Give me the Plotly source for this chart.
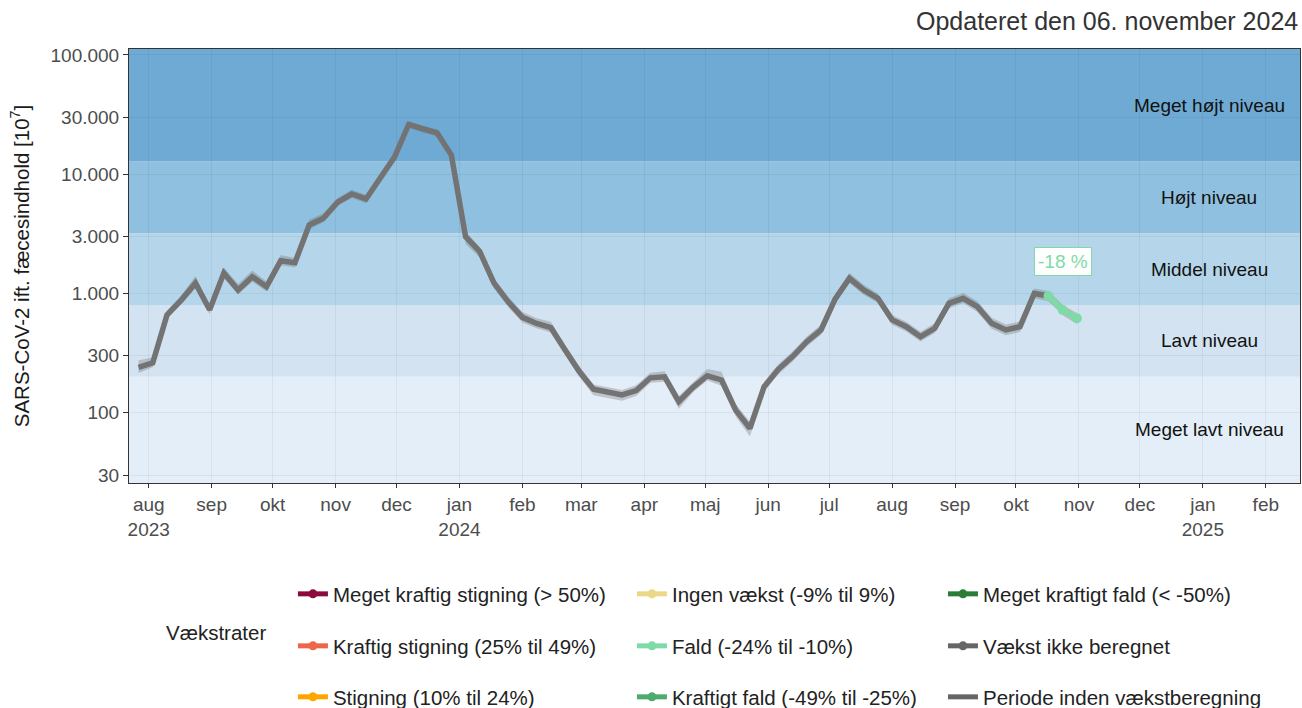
import numpy as np
import plotly.graph_objects as go

# ugentlige målinger (torsdage)
datoer = [
    "2023-07-27", "2023-08-03", "2023-08-10", "2023-08-17", "2023-08-24", "2023-08-31",
    "2023-09-07", "2023-09-14", "2023-09-21", "2023-09-28", "2023-10-05", "2023-10-12",
    "2023-10-19", "2023-10-26", "2023-11-02", "2023-11-09", "2023-11-16", "2023-11-23",
    "2023-11-30", "2023-12-07", "2023-12-14", "2023-12-21", "2023-12-28",
    "2024-01-04", "2024-01-11", "2024-01-18", "2024-01-25", "2024-02-01", "2024-02-08",
    "2024-02-15", "2024-02-22", "2024-02-29", "2024-03-07", "2024-03-14", "2024-03-21",
    "2024-03-28", "2024-04-04", "2024-04-11", "2024-04-18", "2024-04-25", "2024-05-02",
    "2024-05-09", "2024-05-16", "2024-05-23", "2024-05-30", "2024-06-06", "2024-06-13",
    "2024-06-20", "2024-06-27", "2024-07-04", "2024-07-11", "2024-07-18", "2024-07-25",
    "2024-08-01", "2024-08-08", "2024-08-15", "2024-08-22", "2024-08-29", "2024-09-05",
    "2024-09-12", "2024-09-19", "2024-09-26", "2024-10-03", "2024-10-10", "2024-10-17",
    "2024-10-24", "2024-10-31",
]
vaerdi = [
    240, 262, 660, 880, 1220, 730, 1480, 1070, 1380, 1140, 1880, 1810,
    3750, 4270, 5820, 6820, 6200, 9400, 13900, 26100, 23800, 22200, 14500,
    2990, 2240, 1220, 850, 630, 560, 516, 336, 221, 157, 149, 141,
    153, 196, 200, 124, 163, 204, 188, 105, 74, 165, 231, 295,
    394, 494, 900, 1340, 1070, 910, 600, 526, 434, 510, 826, 910,
    774, 562, 494, 526, 1000, 952, 727, 619,
]
nedre = [
    215, 240, 610, 810, 1100, 670, 1350, 980, 1250, 1040, 1720, 1650,
    3450, 3950, 5400, 6300, 5700, 8700, 12900, 24500, 22300, 20800, 13500,
    2600, 2000, 1100, 770, 570, 510, 470, 305, 200, 140, 133, 126,
    138, 178, 182, 108, 148, 186, 168, 93, 63, 150, 210, 268,
    358, 450, 820, 1220, 975, 830, 545, 480, 395, 465, 752, 830,
    700, 505, 445, 475, 910, 860, 655, 555,
]
oevre = [
    275, 290, 720, 960, 1400, 800, 1650, 1200, 1560, 1260, 2100, 1980,
    4150, 4700, 6300, 7400, 6700, 10200, 15000, 28000, 25400, 23700, 15500,
    3300, 2450, 1350, 940, 700, 620, 580, 370, 245, 172, 164, 155,
    170, 216, 222, 138, 180, 232, 220, 118, 84, 182, 255, 325,
    435, 545, 990, 1480, 1180, 1000, 660, 580, 478, 562, 910, 1010,
    860, 625, 548, 582, 1100, 1050, 800, 685,
]
# de sidste punkter har en beregnet vækstrate
start_vaekst = 64
vaekst_tekst = "-18 %"
vaekst_label_y = 1870

niveau_graenser = [200, 800, 3200, 12800]
niveau_navne = ["Meget lavt niveau", "Lavt niveau", "Middel niveau", "Højt niveau", "Meget højt niveau"]
niveau_farver = ["#e4eef8", "#d3e3f2", "#b5d6ea", "#8fc0df", "#6eaad4"]

y_ticks = [30, 100, 300, 1000, 3000, 10000, 30000, 100000]
y_ticktekst = ["30", "100", "300", "1.000", "3.000", "10.000", "30.000", "100.000"]

x_ticks = [
    "2023-08-01", "2023-09-01", "2023-10-01", "2023-11-01", "2023-12-01", "2024-01-01",
    "2024-02-01", "2024-03-01", "2024-04-01", "2024-05-01", "2024-06-01", "2024-07-01",
    "2024-08-01", "2024-09-01", "2024-10-01", "2024-11-01", "2024-12-01", "2025-01-01",
    "2025-02-01",
]
x_ticktekst = [
    "aug<br>2023", "sep", "okt", "nov", "dec", "jan<br>2024", "feb", "mar", "apr", "maj",
    "jun", "jul", "aug", "sep", "okt", "nov", "dec", "jan<br>2025", "feb",
]

legend_navne = [
    "Meget kraftig stigning (> 50%)", "Kraftig stigning (25% til 49%)", "Stigning (10% til 24%)",
    "Ingen vækst (-9% til 9%)", "Fald (-24% til -10%)", "Kraftigt fald (-49% til -25%)",
    "Meget kraftigt fald (< -50%)", "Vækst ikke beregnet", "Periode inden vækstberegning",
]
legend_farver = [
    "#8c0b3e", "#ef6548", "#ffa500",
    "#ebd886", "#7fdba6", "#4dab6d",
    "#2a7d36", "#666666", "#666666",
]

fald_farve = legend_farver[4]
y_min, y_max = 1.41, 5.05

fig = go.Figure()

# usikkerhedsbånd
fig.add_trace(go.Scatter(
    x=datoer + datoer[::-1], y=oevre + nedre[::-1],
    fill="toself", fillcolor="rgba(110,110,110,0.32)",
    line=dict(width=0), mode="lines", showlegend=False, hoverinfo="skip"))

fig.add_trace(go.Scatter(
    x=datoer[:start_vaekst + 1], y=vaerdi[:start_vaekst + 1],
    mode="lines", line=dict(color="#737373", width=5.5),
    showlegend=False))

fig.add_trace(go.Scatter(
    x=datoer[start_vaekst:], y=vaerdi[start_vaekst:],
    mode="lines+markers", line=dict(color=fald_farve, width=5.5),
    marker=dict(color=fald_farve, size=10), showlegend=False))

# legend - en legend pr. post så placeringen kan styres
kol_x = [0.1400, 0.4295, 0.6951]
raek_y = [-0.2558, -0.3756, -0.4931]
for i, (navn, farve) in enumerate(zip(legend_navne, legend_farver)):
    lg = "legend" if i == 0 else "legend%d" % (i + 1)
    mode = "lines" if i == 8 else "lines+markers"
    fig.add_trace(go.Scatter(
        x=[None], y=[None], mode=mode, name=navn, legend=lg,
        line=dict(color=farve, width=5), marker=dict(color=farve, size=9)))
    fig.update_layout({lg: dict(
        x=kol_x[i // 3], xanchor="left", y=raek_y[i % 3], yanchor="middle",
        bgcolor="rgba(0,0,0,0)", font=dict(size=20.5, color="#222222"),
        itemwidth=30)})

# niveaubånd
graenser = [y_min] + [np.log10(g) for g in niveau_graenser] + [y_max]
for i, farve in enumerate(niveau_farver):
    fig.add_shape(type="rect", xref="paper", x0=0, x1=1, yref="y",
                  y0=10 ** graenser[i], y1=10 ** graenser[i + 1], fillcolor=farve,
                  line=dict(width=0), layer="below")
    fig.add_annotation(x=0.9223, xref="paper", xanchor="center",
                       y=(graenser[i] + graenser[i + 1]) / 2, yref="y",
                       text=niveau_navne[i], showarrow=False,
                       font=dict(size=19, color="#111111"))

fig.add_annotation(x=datoer[start_vaekst + 1], y=np.log10(vaekst_label_y),
                   text=vaekst_tekst, showarrow=False,
                   font=dict(size=19, color=fald_farve),
                   bgcolor="white", bordercolor=fald_farve, borderwidth=1, borderpad=3)

fig.add_annotation(x=0.1187, xref="paper", xanchor="right", y=-0.3756, yref="paper",
                   text="Vækstrater", showarrow=False,
                   font=dict(size=20.5, color="#222222"))

fig.add_annotation(x=1, xref="paper", xanchor="right", y=1.0, yref="paper",
                   yanchor="bottom", yshift=12, text="Opdateret den 06. november 2024",
                   showarrow=False, font=dict(size=25, color="#333333"))

fig.update_xaxes(
    type="date", range=["2023-07-22 07:00", "2025-02-17 20:00"],
    tickvals=x_ticks, ticktext=x_ticktekst,
    tickfont=dict(size=19, color="#4d4d4d"),
    showgrid=True, gridcolor="rgba(0,0,0,0.05)", gridwidth=1,
    showline=True, mirror=True, linecolor="#333333", linewidth=1,
    ticks="outside", ticklen=4, tickcolor="#333333", zeroline=False)

fig.update_yaxes(
    type="log", range=[y_min, y_max],
    tickvals=y_ticks, ticktext=y_ticktekst,
    tickfont=dict(size=19, color="#4d4d4d"),
    title=dict(text="SARS-CoV-2 ift. fæcesindhold [10<sup>7</sup>]",
               font=dict(size=20.5, color="#1a1a1a"), standoff=15),
    showgrid=True, gridcolor="rgba(0,0,0,0.05)", gridwidth=1,
    showline=True, mirror=True, linecolor="#333333", linewidth=1,
    ticks="outside", ticklen=5, tickcolor="#333333", zeroline=False)

fig.update_layout(
    width=1302, height=708,
    margin=dict(l=129, r=2, t=49, b=225, autoexpand=False),
    paper_bgcolor="white", plot_bgcolor="white",
    font=dict(family="Liberation Sans, Arial, sans-serif"),
)

# siden skal ikke have ekstra margen omkring figuren
fig.write_html("out.html", config={"displayModeBar": False},
               post_script="document.body.style.margin='0px';")
